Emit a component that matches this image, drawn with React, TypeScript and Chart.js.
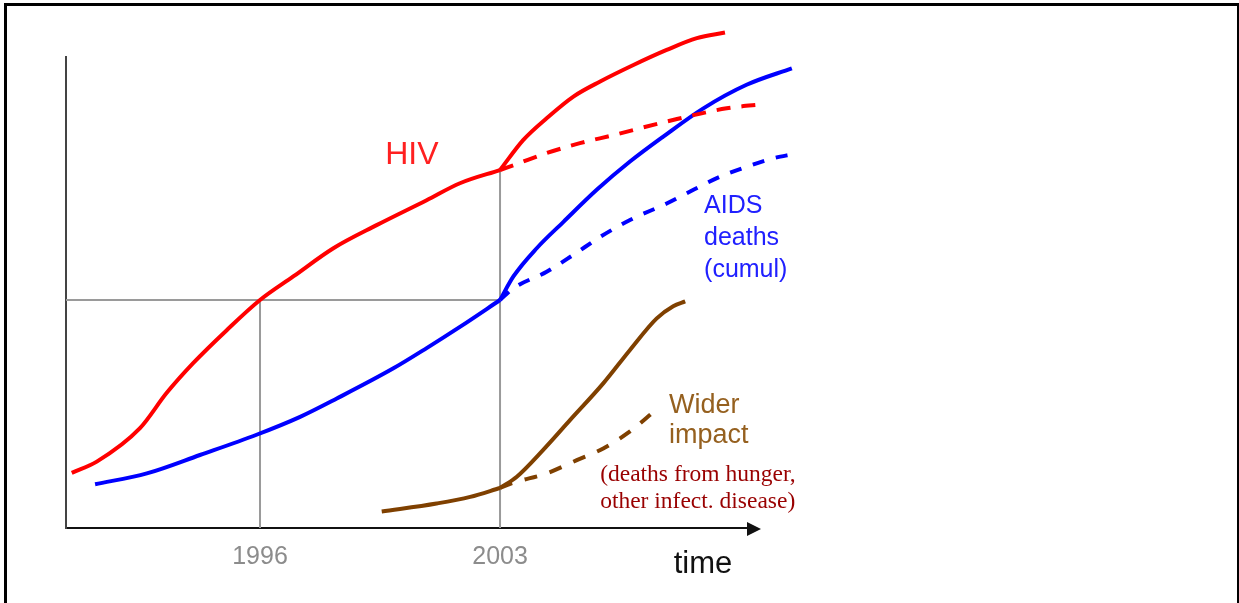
import React, { useEffect, useRef } from "react";
import { Chart, registerables } from "chart.js";

Chart.register(...registerables);

// ---- axis extents (years / arbitrary "size" units) ----
const X_MIN = 1990.342;
const X_MAX = 2010.29;
const Y_MIN = 0;
const Y_MAX = 100;

// ---- tick labels ----
const TICK_YEARS = [1996, 2003];
const TICK_LABELS = ["1996", "2003"];
const AXIS_TITLE = "time";

// ---- HIV (solid: with wider impact feedback) ----
const HIV_YEARS = [1990.51, 1991.24, 1992.5, 1993.28, 1994.05, 1995.03, 1996, 1996.97, 1998.14, 1999.4, 2000.86, 2001.83, 2003, 2003.68, 2004.36, 2005.14, 2005.92, 2006.89, 2007.86, 2008.74, 2009.56];
const HIV_VALUES = [11.7, 14.1, 21.2, 28.7, 35.0, 42.0, 48.4, 53.4, 59.4, 64.3, 69.6, 73.2, 76.0, 82.4, 87.0, 91.6, 94.8, 98.3, 101.5, 104.0, 105.2];

// ---- HIV (dashed projection) ----
const HIV_ALT_YEARS = [2003, 2003.53, 2004.36, 2005.33, 2006.3, 2007.86, 2009.61, 2010.73];
const HIV_ALT_VALUES = [76.0, 77.4, 79.6, 81.7, 83.4, 86.3, 89.1, 90.0];

// ---- AIDS deaths, cumulative (solid) ----
const AIDS_YEARS = [1991.19, 1992.7, 1994.25, 1995.9, 1997.17, 1998.24, 1999.89, 2000.86, 2001.83, 2003, 2003.39, 2004.07, 2004.85, 2005.82, 2006.79, 2007.76, 2008.93, 2010.19, 2011.51];
const AIDS_VALUES = [9.3, 11.6, 15.5, 19.8, 23.6, 27.5, 33.9, 38.2, 42.7, 48.4, 53.4, 59.4, 65.0, 71.8, 77.8, 83.1, 89.1, 94.1, 97.6];

// ---- AIDS deaths, cumulative (dashed projection) ----
const AIDS_ALT_YEARS = [2003, 2003.39, 2004.36, 2005.14, 2005.92, 2006.79, 2007.86, 2008.64, 2009.42, 2010.19, 2010.97, 2011.56];
const AIDS_ALT_VALUES = [48.4, 50.9, 54.4, 58.0, 61.8, 65.4, 68.9, 71.8, 74.6, 76.7, 78.5, 79.4];

// ---- Wider impact (solid) ----
const WIDER_YEARS = [1999.55, 2001.15, 2002.13, 2003, 2003.49, 2004.26, 2005.04, 2006.01, 2006.79, 2007.57, 2008.05, 2008.4];
const WIDER_VALUES = [3.5, 5.2, 6.6, 8.5, 10.9, 16.6, 22.9, 30.7, 37.8, 44.5, 47.1, 48.1];

// ---- Wider impact (dashed projection) ----
const WIDER_ALT_YEARS = [2003, 2003.38, 2004.36, 2005.24, 2006.01, 2006.79, 2007.52];
const WIDER_ALT_VALUES = [8.5, 9.6, 11.6, 14.4, 16.9, 20.5, 24.9];

// ---- reference guides ----
const REF_YEAR_EARLY = 1996;
const REF_YEAR_LATE = 2003;
const REF_LEVEL = 48.4; // HIV in 1996 == cumulative AIDS deaths in 2003

// ---- annotation texts ----
const HIV_LABEL = ["HIV"];
const AIDS_LABEL = ["AIDS", "deaths", "(cumul)"];
const WIDER_LABEL = ["Wider", "impact"];
const WIDER_NOTE = ["(deaths from hunger,", "other infect. disease)"];

const pts = (xs: number[], ys: number[]) => xs.map((x, i) => ({ x, y: ys[i] }));
// split a series at a break year (kink) into two pieces sharing the break point
const splitAt = (xs: number[], ys: number[], x0: number) => {
  const k = xs.indexOf(x0);
  return [pts(xs.slice(0, k + 1), ys.slice(0, k + 1)), pts(xs.slice(k), ys.slice(k))];
};

const SANS = "'Liberation Sans', Arial, Helvetica, sans-serif";
const SERIF = "'Liberation Serif', 'Times New Roman', serif";

const annotationPlugin = {
  id: "annotations",
  afterDraw(chart: any) {
    const { ctx, chartArea } = chart;
    const xs = chart.scales.x;
    const ys = chart.scales.y;
    ctx.save();
    // arrow head at end of time axis
    const ax = chartArea.right;
    const ay = chartArea.bottom + 1;
    ctx.fillStyle = "#111";
    ctx.beginPath();
    ctx.moveTo(ax - 3, ay - 7);
    ctx.lineTo(ax + 11, ay);
    ctx.lineTo(ax - 3, ay + 7);
    ctx.closePath();
    ctx.fill();

    const items = [
      { lines: HIV_LABEL, x: 2000.43, y: 77.3, gap: 0, font: "32px " + SANS, color: "#ff2020", align: "center" },
      { lines: AIDS_LABEL, x: 2008.95, y: 66.9, gap: 32, font: "25px " + SANS, color: "#2020ff", align: "left" },
      { lines: WIDER_LABEL, x: 2007.93, y: 24.4, gap: 30, font: "27px " + SANS, color: "#95601f", align: "left" },
      { lines: WIDER_NOTE, x: 2005.92, y: 10.0, gap: 27, font: "23.5px " + SERIF, color: "#990000", align: "left" },
      { lines: [AXIS_TITLE], x: 2008.92, y: -9.55, gap: 0, font: "31px " + SANS, color: "#111", align: "center" },
    ];
    ctx.textBaseline = "alphabetic";
    for (const it of items) {
      ctx.font = it.font;
      ctx.fillStyle = it.color;
      ctx.textAlign = it.align;
      const px = xs.getPixelForValue(it.x);
      const py = ys.getPixelForValue(it.y);
      it.lines.forEach((t: string, i: number) => ctx.fillText(t, px, py + i * it.gap));
    }
    ctx.restore();
  },
};

export default function App() {
  const ref = useRef<HTMLCanvasElement>(null);

  useEffect(() => {
    const hiv2003 = HIV_VALUES[HIV_YEARS.indexOf(REF_YEAR_LATE)];
    const line = (data: any[], color: string, dash: number[] = [], width = 4) => ({
      data,
      borderColor: color,
      backgroundColor: color,
      borderWidth: width,
      borderDash: dash,
      borderCapStyle: "butt",
      borderJoinStyle: "round",
      pointRadius: 0,
      pointHoverRadius: 0,
      fill: false,
      cubicInterpolationMode: "monotone",
      clip: false,
    });
    const guide = (data: any[]) => ({
      data,
      borderColor: "#9a9a9a",
      borderWidth: 2,
      pointRadius: 0,
      pointHoverRadius: 0,
      fill: false,
      tension: 0,
      clip: false,
    });

    const [hivA, hivB] = splitAt(HIV_YEARS, HIV_VALUES, REF_YEAR_LATE);
    const [aidsA, aidsB] = splitAt(AIDS_YEARS, AIDS_VALUES, REF_YEAR_LATE);
    const [widA, widB] = splitAt(WIDER_YEARS, WIDER_VALUES, REF_YEAR_LATE);

    const chart = new Chart(ref.current as HTMLCanvasElement, {
      type: "line",
      data: {
        datasets: [
          { label: "HIV", ...line(hivA, "#ff0000") },
          { label: "HIV (after 2003)", ...line(hivB, "#ff0000") },
          { label: "HIV (projection)", ...line(pts(HIV_ALT_YEARS, HIV_ALT_VALUES), "#ff0000", [14, 11]) },
          { label: "AIDS deaths (cumul)", ...line(aidsA, "#0000ff") },
          { label: "AIDS deaths (after 2003)", ...line(aidsB, "#0000ff") },
          { label: "AIDS deaths (projection)", ...line(pts(AIDS_ALT_YEARS, AIDS_ALT_VALUES), "#0000ff", [12, 12]) },
          { label: "Wider impact", ...line(widA, "#7f4000") },
          { label: "Wider impact (after 2003)", ...line(widB, "#7f4000") },
          { label: "Wider impact (projection)", ...line(pts(WIDER_ALT_YEARS, WIDER_ALT_VALUES), "#7f4000", [13, 13]) },
          { label: "guide level", ...guide([{ x: X_MIN, y: REF_LEVEL }, { x: REF_YEAR_LATE, y: REF_LEVEL }]) },
          { label: "guide 1996", ...guide([{ x: REF_YEAR_EARLY, y: REF_LEVEL }, { x: REF_YEAR_EARLY, y: Y_MIN }]) },
          { label: "guide 2003", ...guide([{ x: REF_YEAR_LATE, y: hiv2003 }, { x: REF_YEAR_LATE, y: Y_MIN }]) },
        ] as any,
      },
      options: {
        animation: false,
        responsive: false,
        devicePixelRatio: 1,
        events: [],
        layout: { padding: { left: 0, top: 57, right: 489, bottom: 0 } },
        plugins: { legend: { display: false }, tooltip: { enabled: false } },
        scales: {
          x: {
            type: "linear",
            bounds: "data",
            afterDataLimits: (s: any) => {
              s.min = X_MIN;
              s.max = X_MAX;
            },
            afterBuildTicks: (s: any) => {
              s.ticks = TICK_YEARS.map((v) => ({ value: v }));
            },
            afterFit: (s: any) => {
              s.height = 75;
            },
            grid: { display: false, drawTicks: false },
            border: { display: true, color: "#111", width: 2 },
            ticks: {
              autoSkip: false,
              maxRotation: 0,
              padding: 14,
              color: "#8c8c8c",
              font: { family: SANS, size: 25 },
              callback: (v: any) => TICK_LABELS[TICK_YEARS.indexOf(Number(v))] ?? "",
            },
          },
          y: {
            type: "linear",
            min: Y_MIN,
            max: Y_MAX,
            afterFit: (s: any) => {
              s.width = 66;
            },
            grid: { display: false, drawTicks: false },
            border: { display: true, color: "#444", width: 2 },
            ticks: { display: false },
          },
        },
      } as any,
      plugins: [annotationPlugin],
    });
    return () => chart.destroy();
  }, []);

  return (
    <div style={{ position: "absolute", left: 0, top: 0, width: 1239, height: 603, overflow: "hidden", background: "#fff" }}>
      <div
        style={{
          position: "absolute",
          left: 4,
          top: 3,
          width: 1236,
          height: 700,
          border: "3px solid #000",
          boxSizing: "border-box",
        }}
      />
      <canvas ref={ref} width={1239} height={603} style={{ position: "absolute", left: 0, top: 0, width: 1239, height: 603 }} />
    </div>
  );
}
